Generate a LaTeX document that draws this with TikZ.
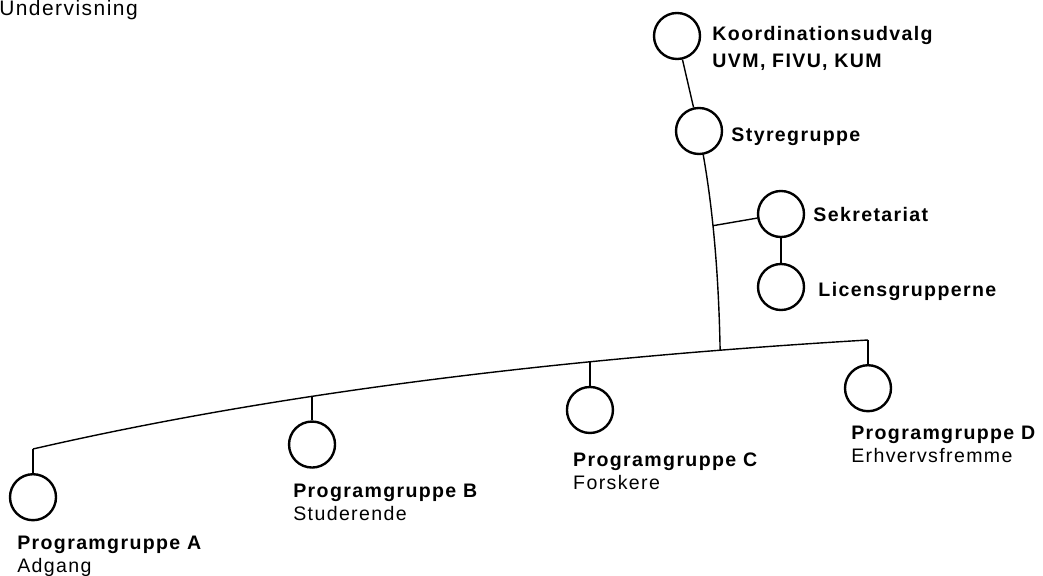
\documentclass[tikz,border=0pt]{standalone}
\usepackage{fontspec}
\setmainfont[LetterSpace=7]{Liberation Sans}
\usetikzlibrary{positioning, calc}

\begin{document}
\begin{tikzpicture}[
        x=0.025cm, y=-0.025cm,
        unit/.style={draw, circle, line width=1.7pt, minimum size=1.15cm, inner sep=0pt},
        link/.style={line width=1pt},
        head/.style={anchor=base west, inner sep=0pt, align=left, font=\bfseries\fontsize{13.9pt}{19.2pt}\selectfont},
        group/.style={anchor=base west, inner sep=0pt, align=left, font=\fontsize{13.9pt}{16.4pt}\selectfont}
    ]
    \useasboundingbox (0,0) rectangle (1043,576);

    % Title
    \node[anchor=base west, inner sep=0pt, font=\fontsize{14.9pt}{18pt}\selectfont] (title) at (-1,16) {Undervisning};

    % Top nodes
    \node[unit] (koord) at (677,36) {};
    \node[unit] (sty) at (699,131) {};
    \node[unit] (sek) at (781,214) {};
    \node[unit] (lic) at (781,287) {};

    % Bottom line
    \draw[link] (33,449) coordinate (jA) .. controls (264.3,395.7) and (542.7,359.3) .. (868,340) coordinate (jD)
        coordinate[pos=0.3737] (jB) coordinate[pos=0.7023] (jC) coordinate[pos=0.845] (jT);

    % Program groups
    \node[unit, below=0.6cm of jA] (pA) {};
    \node[unit, below=0.6cm of jB] (pB) {};
    \node[unit, below=0.6cm of jC] (pC) {};
    \node[unit, below=0.6cm of jD] (pD) {};

    % Labels (base = last line)
    \node[head] (lKoord) at ($(koord.east)+(11,32)$) {Koordinationsudvalg\\UVM, FIVU, KUM};
    \node[head] (lSty) at ($(sty.east)+(8,11)$) {Styregruppe};
    \node[head] (lSek) at ($(sek.east)+(8,8)$) {Sekretariat};
    \node[head] (lLic) at ($(lic.east)+(13,10)$) {Licensgrupperne};
    \node[group] (lA) at ($(pA.south)+(-16,51)$) {\textbf{Programgruppe A}\\Adgang};
    \node[group] (lB) at ($(pB.south)+(-19,52)$) {\textbf{Programgruppe B}\\Studerende};
    \node[group] (lC) at ($(pC.south)+(-17,55)$) {\textbf{Programgruppe C}\\Forskere};
    \node[group] (lD) at ($(pD.south)+(-17,50)$) {\textbf{Programgruppe D}\\Erhvervsfremme};

    % Lines
    \draw[link] (koord) -- (sty);
    \draw[link] (sty) .. controls (713,210) and (718.7,274.7) .. (jT) coordinate[pos=0.4] (jS);
    \draw[link] (jS) -- (sek);
    \draw[link] (sek) -- (lic);
    \draw[link] (jA) -- (pA);
    \draw[link] (jB) -- (pB);
    \draw[link] (jC) -- (pC);
    \draw[link] (jD) -- (pD);

\end{tikzpicture}
\end{document}
